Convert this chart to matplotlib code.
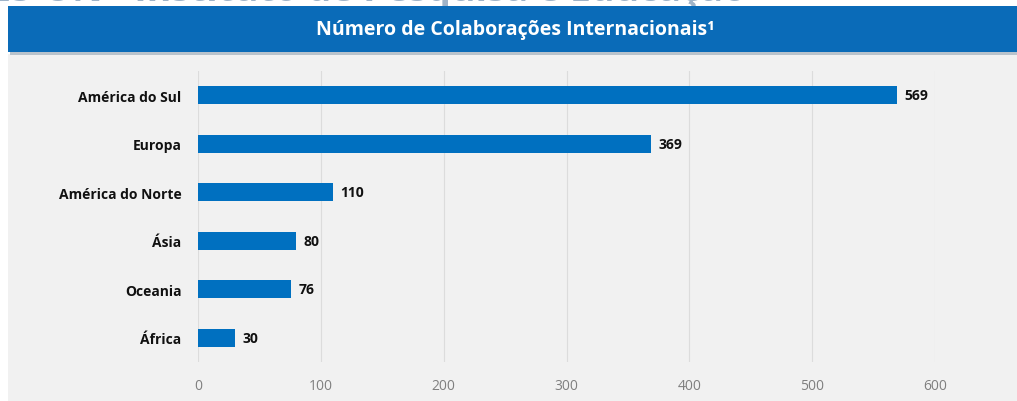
import matplotlib.pyplot as plt
from matplotlib.patches import Rectangle

regioes = ['América do Sul', 'Europa', 'América do Norte', 'Ásia', 'Oceania', 'África']
colaboracoes = [569, 369, 110, 80, 76, 30]
ticks = [0, 100, 200, 300, 400, 500, 600]

plt.rcParams['font.family'] = ['Open Sans', 'DejaVu Sans']

W, H = 1017, 402
fig = plt.figure(figsize=(W / 100, H / 100), dpi=100)
fig.patch.set_facecolor('white')

# painel cinza do grafico
fig.patches.append(Rectangle((8 / W, 0), 1, (H - 55) / H, transform=fig.transFigure,
                             facecolor='#f1f1f1', edgecolor='none', zorder=0))
# sombra + faixa azul do titulo
fig.patches.append(Rectangle((10 / W, (H - 56) / H), 1, 4 / H, transform=fig.transFigure,
                             facecolor='#b9c3cc', edgecolor='none', zorder=1))
fig.patches.append(Rectangle((8 / W, (H - 53) / H), 1, 46 / H, transform=fig.transFigure,
                             facecolor='#0a6bb8', edgecolor='none', zorder=2))
fig.text(0.507, (H - 30) / H, 'Número de Colaborações Internacionais¹', color='white',
         fontsize=14, fontweight='bold', ha='center', va='center', zorder=3)
# titulo do slide cortado no topo
fig.text(-0.01, (H + 9) / H, 'ES-UN - Instituto de Pesquisa e Educação', color='#9fb3c8',
         fontsize=27, fontweight='bold', ha='left', va='center', zorder=1)

ax = fig.add_axes([198 / W, (H - 363.3) / H, (935 - 198) / W, (363.3 - 71.7) / H])
ax.set_zorder(5)
ax.set_facecolor('none')
y = list(range(len(regioes)))[::-1]
ax.barh(y, colaboracoes, height=0.37, color='#0070c0', zorder=2)
for yi, v in zip(y, colaboracoes):
    ax.text(v + 6, yi, str(v), va='center', ha='left', fontsize=10,
            fontweight='bold', color='#111111')
ax.set_xlim(0, 600)
ax.set_ylim(-0.5, len(regioes) - 0.5)
ax.set_xticks(ticks)
ax.set_yticks(y)
ax.set_yticklabels(regioes, fontsize=10, fontweight='bold', color='#111111')
ax.tick_params(axis='x', length=0, pad=11, labelsize=10, labelcolor='#7f7f7f')
ax.tick_params(axis='y', length=0, pad=12)
ax.xaxis.grid(True, color='#dcdcdc', linewidth=0.8)
ax.set_axisbelow(True)
for s in ax.spines.values():
    s.set_visible(False)

fig.savefig('out.png', dpi=100)
